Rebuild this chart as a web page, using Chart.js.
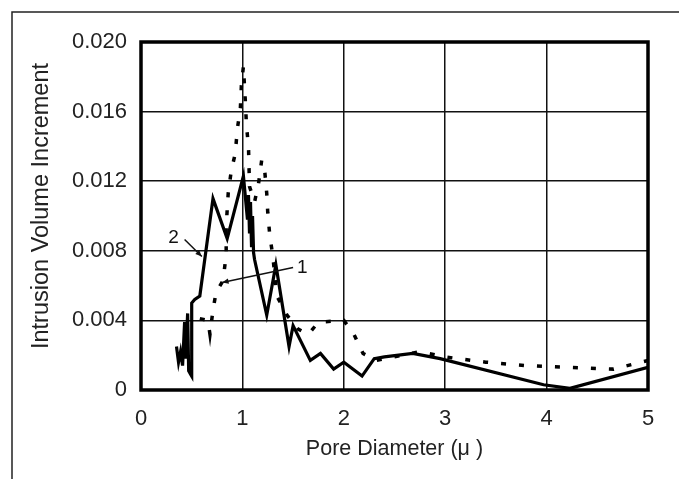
<html>
<head>
<script src="https://cdn.jsdelivr.net/npm/chart.js@4.4.1/dist/chart.umd.min.js"></script>
<style>
body { margin: 0; background: #fff; }
#wrap { width: 679px; height: 479px; }
</style>
</head>
<body>
<div id="wrap"><canvas id="poreChart" width="679" height="479"></canvas></div>
<script>
// curve 2 (solid)
var curve2X = [0.35, 0.37, 0.39, 0.41, 0.43, 0.44, 0.46, 0.47, 0.49, 0.50, 0.50, 0.53, 0.58, 0.71, 0.85, 1.01, 1.05, 1.06, 1.07, 1.08, 1.09, 1.10, 1.11, 1.12, 1.24, 1.33, 1.46, 1.50, 1.67, 1.77, 1.90, 2.00, 2.18, 2.30, 2.40, 2.68, 2.95, 3.97, 4.23, 5.00];
var curve2Y = [0.0025, 0.0016, 0.0022, 0.0014, 0.0039, 0.0018, 0.0044, 0.0011, 0.0009, 0.0008, 0.0050, 0.0052, 0.0054, 0.0110, 0.0087, 0.0123, 0.0098, 0.0112, 0.0090, 0.0108, 0.0082, 0.0100, 0.0079, 0.0075, 0.0043, 0.0072, 0.0025, 0.0037, 0.0017, 0.0021, 0.0012, 0.0016, 0.0008, 0.0018, 0.0019, 0.0021, 0.0018, 0.0003, 0.0001, 0.0013];

// curve 1 (dotted)
var curve1X = [0.58, 0.66, 0.68, 0.71, 0.74, 0.81, 0.84, 0.84, 0.86, 0.89, 0.93, 0.95, 0.98, 0.99, 1.01, 1.03, 1.04, 1.06, 1.07, 1.12, 1.16, 1.19, 1.22, 1.24, 1.25, 1.27, 1.30, 1.34, 1.44, 1.55, 1.65, 1.75, 2.00, 2.10, 2.19, 2.32, 2.75, 3.00, 3.40, 3.80, 4.20, 4.66, 5.00];
var curve1Y = [0.0041, 0.0040, 0.0032, 0.0046, 0.0056, 0.0063, 0.0078, 0.0094, 0.0113, 0.0126, 0.0136, 0.0150, 0.0162, 0.0175, 0.0186, 0.0165, 0.0152, 0.0140, 0.0117, 0.0108, 0.0119, 0.0132, 0.0126, 0.0113, 0.0102, 0.0089, 0.0077, 0.0054, 0.0043, 0.0035, 0.0032, 0.0039, 0.0040, 0.0032, 0.0021, 0.0017, 0.0022, 0.0019, 0.0016, 0.0014, 0.0013, 0.0012, 0.0017];

var xTicks = [0, 1, 2, 3, 4, 5];
var yTicks = [0, 0.004, 0.008, 0.012, 0.016, 0.020];

function pts(xs, ys) {
  var out = [];
  for (var i = 0; i < xs.length; i++) out.push({x: xs[i], y: ys[i]});
  return out;
}

var FONT = 'Liberation Sans, Arial, Helvetica, sans-serif';

// frame, heavy plot border, y title and the "1"/"2" callouts
var decor = {
  id: 'decor',
  beforeDraw: function(chart) {
    var ctx = chart.ctx;
    ctx.save();
    ctx.fillStyle = '#fff';
    ctx.fillRect(0, 0, chart.width, chart.height);
    ctx.strokeStyle = '#222';
    ctx.lineWidth = 1.5;
    ctx.beginPath();
    ctx.moveTo(12, chart.height);
    ctx.lineTo(12, 12);
    ctx.lineTo(chart.width, 12);
    ctx.stroke();
    ctx.restore();
  },
  afterDatasetsDraw: function(chart) {
    var ctx = chart.ctx, a = chart.chartArea;
    var sx = chart.scales.x, sy = chart.scales.y;
    function P(x, y) { return [sx.getPixelForValue(x), sy.getPixelForValue(y)]; }
    ctx.save();
    ctx.strokeStyle = '#000';
    ctx.lineWidth = 3.5;
    ctx.strokeRect(a.left, a.top, a.right - a.left, a.bottom - a.top);

    // y axis title, sits a little above the plot's middle
    ctx.save();
    ctx.translate(42, (a.top + a.bottom) / 2 - 10);
    ctx.rotate(-Math.PI / 2);
    ctx.fillStyle = '#222';
    ctx.font = '23.5px ' + FONT;
    ctx.textAlign = 'center';
    ctx.textBaseline = 'middle';
    ctx.fillText('Intrusion Volume Increment', 0, 0);
    ctx.restore();

    ctx.fillStyle = '#111';
    ctx.font = '19px ' + FONT;
    ctx.textAlign = 'center';
    ctx.textBaseline = 'middle';
    var t2 = P(0.32, 0.00876), t1 = P(1.59, 0.00704);
    ctx.fillText('2', t2[0], t2[1]);
    ctx.fillText('1', t1[0], t1[1]);

    ctx.lineWidth = 1.5;
    ctx.strokeStyle = '#111';
    var arrows = [[P(0.43, 0.00865), P(0.60, 0.00767)], [P(1.50, 0.00704), P(0.80, 0.00618)]];
    arrows.forEach(function(ar) {
      var s = ar[0], e = ar[1];
      ctx.beginPath();
      ctx.moveTo(s[0], s[1]);
      ctx.lineTo(e[0], e[1]);
      ctx.stroke();
      var ang = Math.atan2(e[1] - s[1], e[0] - s[0]);
      ctx.beginPath();
      ctx.moveTo(e[0], e[1]);
      ctx.lineTo(e[0] - 7 * Math.cos(ang - 0.4), e[1] - 7 * Math.sin(ang - 0.4));
      ctx.lineTo(e[0] - 7 * Math.cos(ang + 0.4), e[1] - 7 * Math.sin(ang + 0.4));
      ctx.closePath();
      ctx.fill();
    });
    ctx.restore();
  }
};

new Chart(document.getElementById('poreChart'), {
  type: 'line',
  data: {
    datasets: [
      {
        label: '1',
        data: pts(curve1X, curve1Y),
        borderColor: '#000',
        borderWidth: 3.5,
        borderDash: [5, 13],
        borderCapStyle: 'butt',
        pointRadius: 0,
        fill: false,
        tension: 0
      },
      {
        label: '2',
        data: pts(curve2X, curve2Y),
        borderColor: '#000',
        borderWidth: 3.2,
        borderJoinStyle: 'miter',
        pointRadius: 0,
        fill: false,
        tension: 0
      }
    ]
  },
  options: {
    responsive: false,
    animation: false,
    devicePixelRatio: 1,
    layout: { padding: { top: 42, right: 31, left: 0, bottom: 0 } },
    plugins: { legend: { display: false }, tooltip: { enabled: false } },
    scales: {
      x: {
        type: 'linear',
        min: 0,
        max: 5,
        afterBuildTicks: function(s) { s.ticks = xTicks.map(function(v) { return {value: v}; }); },
        afterFit: function(s) { s.height = 89; },
        ticks: {
          padding: 16,
          color: '#222',
          font: { family: FONT, size: 22 },
          callback: function(v) { return String(v); }
        },
        grid: { color: '#111', lineWidth: 1.5, drawTicks: false },
        border: { display: false },
        title: {
          display: true,
          text: 'Pore Diameter (\u03bc )',
          color: '#222',
          font: { family: FONT, size: 21.5 },
          padding: { top: 0, bottom: 17 }
        }
      },
      y: {
        min: 0,
        max: 0.02,
        afterBuildTicks: function(s) { s.ticks = yTicks.map(function(v) { return {value: v}; }); },
        afterFit: function(s) { s.width = 141; },
        ticks: {
          padding: 14,
          color: '#222',
          font: { family: FONT, size: 22 },
          callback: function(v) { return v === 0 ? '0' : v.toFixed(3); }
        },
        grid: { color: '#111', lineWidth: 1.5, drawTicks: false },
        border: { display: false }
      }
    }
  },
  plugins: [decor]
});
</script>
</body>
</html>
